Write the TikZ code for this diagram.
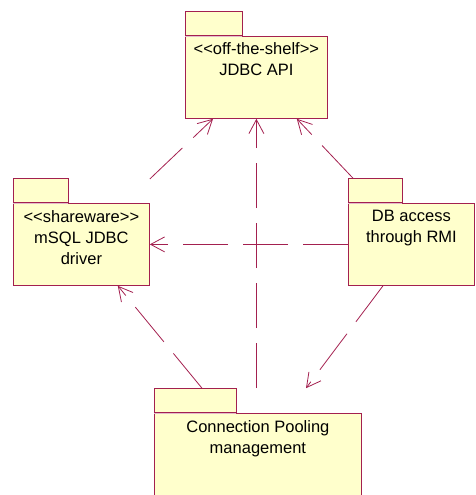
\documentclass[tikz,border=0pt]{standalone}
\usepackage{fontspec}
\setmainfont{Liberation Sans}[Ligatures=TeXOff]
\usetikzlibrary{positioning,arrows.meta}
\definecolor{umlline}{HTML}{A3204F}
\definecolor{pkgfill}{HTML}{FFFFCC}
\begin{document}
\begin{tikzpicture}[x=1pt, y=-1pt]
		\tikzstyle{package} = [draw=umlline, fill=pkgfill, line width=0.8pt, rectangle, anchor=north west, inner sep=0pt, minimum height=82pt]
		\tikzstyle{tab} = [draw=umlline, fill=pkgfill, line width=0.8pt, rectangle, inner sep=0pt, minimum height=24pt]
		\tikzstyle{pkgtext} = [align=center, inner sep=0pt, font={\fontsize{16.5}{21}\selectfont}]
		\tikzstyle{dep} = [draw=umlline, line width=0.8pt, dash pattern=on 45pt off 15pt, -{Straight Barb[length=14pt, width=15pt]}]
		\useasboundingbox (0,0) rectangle (475,495);

		\node[package, minimum width=142pt] (jdbc) at (185,36) {};
		\node[tab, minimum width=57pt] (jdbctab) [above right=0pt of jdbc.north west] {};
		\node[pkgtext] (jdbctext) [below=6pt of jdbc.north] {<<off-the-shelf>>\\JDBC API};

		\node[package, minimum width=136pt] (msql) at (13,203) {};
		\node[tab, minimum width=55pt] (msqltab) [above right=0pt of msql.north west] {};
		\node[pkgtext] (msqltext) [below=7pt of msql.north] {<<shareware>>\\mSQL JDBC\\driver};

		\node[package, minimum width=126pt] (rmi) at (348,203) {};
		\node[tab, minimum width=54pt] (rmitab) [above right=0pt of rmi.north west] {};
		\node[pkgtext] (rmitext) [below=7pt of rmi.north] {DB access\\through RMI};

		\node[package, minimum width=207pt, minimum height=90pt] (pool) at (154,413) {};
		\node[tab, minimum width=82pt] (pooltab) [above right=0pt of pool.north west] {};
		\node[pkgtext] (pooltext) [below=7pt of pool.north] {Connection Pooling\\management};

		% the line under each tab is only faint
		\foreach \p in {jdbc,msql,rmi,pool}
			\draw[umlline!30, line width=0.8pt] ([xshift=0.4pt]\p tab.south west) -- ([xshift=-0.4pt]\p tab.south east);

		% dependencies
		\draw[dep] ([yshift=24pt]msql.north east) -- ([xshift=28pt]jdbc.south west);
		\draw[dep] (jdbc.south |- pooltab.north) -- (jdbc.south);
		\draw[dep] ([xshift=5pt]rmitab.north west) -- ([xshift=-31pt]jdbc.south east);
		\draw[dep] (rmi.west) -- (msql.east |- rmi.west);
		\draw[dep] ([xshift=48pt]pooltab.north west) -- ([xshift=-32pt]msql.south east);
		\draw[dep] ([xshift=35pt]rmi.south west) -- ([xshift=152pt]pooltab.north west);
	\end{tikzpicture}
\end{document}
